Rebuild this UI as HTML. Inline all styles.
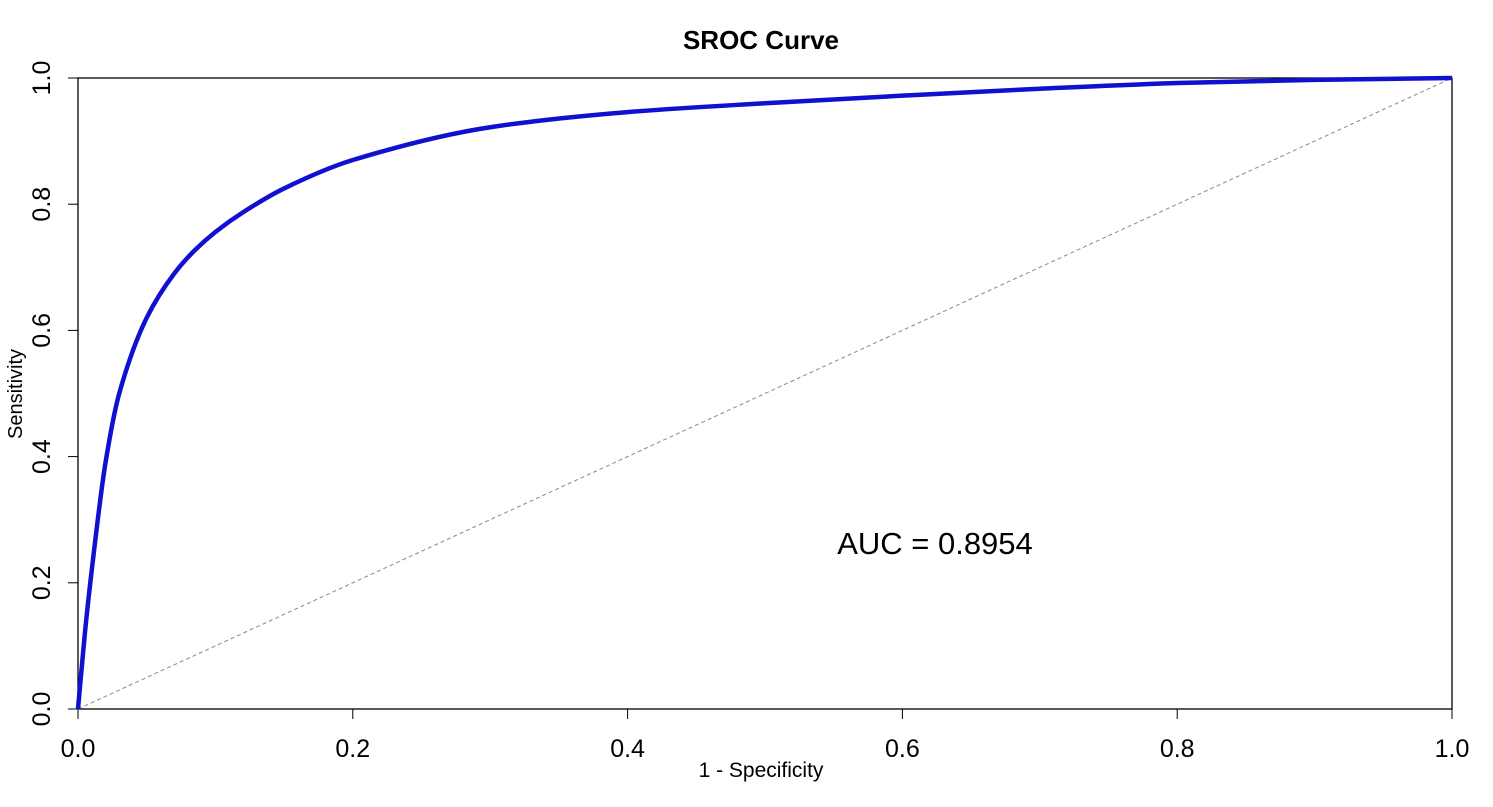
<!DOCTYPE html>
<html><head><meta charset="utf-8"><style>
body{margin:0;background:#fff;}
svg{display:block;font-family:"Liberation Sans",Arial,sans-serif;}
</style></head><body>
<svg id="chart" width="1493" height="807">
<text x="761" y="49" font-size="26" font-weight="bold" text-anchor="middle">SROC Curve</text>
<rect x="78" y="78" width="1374" height="631" fill="none" stroke="#000" stroke-width="1.3"/>
<g id="axes"></g>
<line id="diag" stroke="#888" stroke-width="1" stroke-dasharray="4,3"/>
<path id="curve" fill="none" stroke="#1010d0" stroke-width="4.5" stroke-linejoin="round"/>
<text x="935" y="554" font-size="31" text-anchor="middle">AUC = 0.8954</text>
<text x="761" y="777" font-size="21" text-anchor="middle">1 - Specificity</text>
<text transform="translate(22,394) rotate(-90)" font-size="20" text-anchor="middle">Sensitivity</text>
</svg>
<script>
const ticks=[0,0.2,0.4,0.6,0.8,1.0];
const tickLabels=["0.0","0.2","0.4","0.6","0.8","1.0"];
const fpr=[0,0.005,0.01,0.02,0.03,0.05,0.07,0.085,0.1,0.12,0.15,0.2,0.3,0.4,0.5,0.6,0.7,0.8,0.9,1.0];
const sens=[0,0.12,0.22,0.39,0.50,0.62,0.69,0.727,0.756,0.787,0.825,0.87,0.922,0.946,0.96,0.972,0.983,0.992,0.997,1.0];
const X0=78,X1=1452,Y0=709,Y1=78;
const sx=v=>X0+v*(X1-X0), sy=v=>Y0-v*(Y0-Y1);
const ns="http://www.w3.org/2000/svg", g=document.getElementById('axes');
ticks.forEach((t,i)=>{
 let l=document.createElementNS(ns,'line');
 l.setAttribute('x1',sx(t));l.setAttribute('x2',sx(t));l.setAttribute('y1',Y0);l.setAttribute('y2',Y0+10);l.setAttribute('stroke','#000');
 
 
 g.appendChild(l);
 let tx=document.createElementNS(ns,'text');
 tx.setAttribute('x',sx(t));tx.setAttribute('y',757);tx.setAttribute('font-size','25');tx.setAttribute('text-anchor','middle');tx.textContent=tickLabels[i];
 
 
 g.appendChild(tx);
 let l2=document.createElementNS(ns,'line');
 l2.setAttribute('x1',X0-10);l2.setAttribute('x2',X0);l2.setAttribute('y1',sy(t));l2.setAttribute('y2',sy(t));l2.setAttribute('stroke','#000');
 
 
 g.appendChild(l2);
 let ty=document.createElementNS(ns,'text');
 ty.setAttribute('transform','translate(50,'+sy(t)+') rotate(-90)');ty.setAttribute('font-size','25');ty.setAttribute('text-anchor','middle');ty.textContent=tickLabels[i];
 
 
 g.appendChild(ty);
});
const d=document.getElementById('diag');
d.setAttribute('x1',sx(0));d.setAttribute('y1',sy(0));d.setAttribute('x2',sx(1));d.setAttribute('y2',sy(1));
const px=fpr.map(sx),py=sens.map(sy),n=px.length;
const m=[];const dl=[];
for(let i=0;i<n-1;i++)dl.push((py[i+1]-py[i])/(px[i+1]-px[i]));
m[0]=dl[0];m[n-1]=dl[n-2];
for(let i=1;i<n-1;i++)m[i]=(dl[i-1]*dl[i]<=0)?0:2/(1/dl[i-1]+1/dl[i]);
let p='M'+px[0]+','+py[0];
for(let i=0;i<n-1;i++){const h=(px[i+1]-px[i])/3;p+=' C'+(px[i]+h)+','+(py[i]+m[i]*h)+' '+(px[i+1]-h)+','+(py[i+1]-m[i+1]*h)+' '+px[i+1]+','+py[i+1];}
document.getElementById('curve').setAttribute('d',p);
</script>
</body></html>
